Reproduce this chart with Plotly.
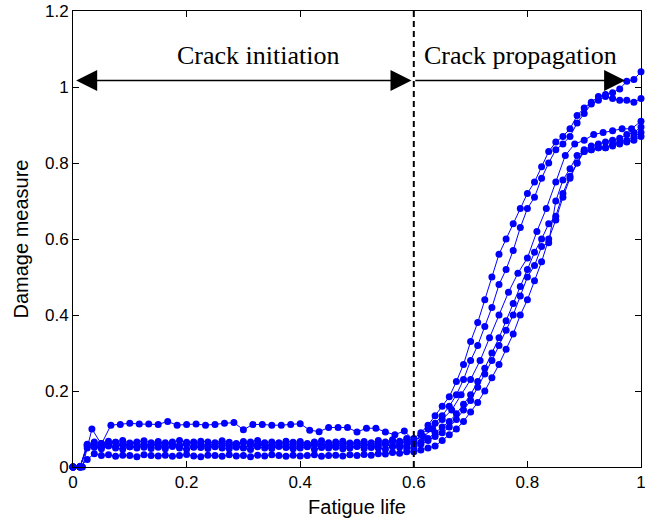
import plotly.graph_objects as go

# ---------------- data ----------------
# sample positions (normalised fatigue life)
X_A = [0, 0.0125, 0.025, 0.0375, 0.05, 0.0625, 0.075, 0.0875, 0.1, 0.1125,
       0.125, 0.1375, 0.15, 0.1625, 0.175, 0.1875, 0.2, 0.2125, 0.225, 0.2375,
       0.25, 0.2625, 0.275, 0.2875, 0.3, 0.3125, 0.325, 0.3375, 0.35, 0.3625,
       0.375, 0.3875, 0.4, 0.4125, 0.425, 0.4375, 0.45, 0.4625, 0.475, 0.4875,
       0.5, 0.5125, 0.525, 0.5375, 0.55, 0.5625, 0.575, 0.5875, 0.6, 0.6125,
       0.625, 0.6375, 0.65, 0.6625, 0.675, 0.6875, 0.7, 0.7125, 0.725, 0.7375,
       0.75, 0.7625, 0.775, 0.7875, 0.8, 0.8125, 0.825, 0.8375, 0.85, 0.8625,
       0.875, 0.8875, 0.9, 0.9125, 0.925, 0.9375, 0.95, 0.9625, 0.975, 0.9875, 1.0]

X_B = [0, 0.0167, 0.0333, 0.05, 0.0667, 0.0833, 0.1, 0.1167, 0.1333, 0.15,
       0.1667, 0.1833, 0.2, 0.2167, 0.2333, 0.25, 0.2667, 0.2833, 0.3, 0.3167,
       0.3333, 0.35, 0.3667, 0.3833, 0.4, 0.4167, 0.4333, 0.45, 0.4667, 0.4833,
       0.5, 0.5167, 0.5333, 0.55, 0.5667, 0.5833, 0.6, 0.6167, 0.6333, 0.65,
       0.6667, 0.6833, 0.7, 0.7167, 0.7333, 0.75, 0.7667, 0.7833, 0.8, 0.8167,
       0.8333, 0.85, 0.8667, 0.8833, 0.9, 0.9167, 0.9333, 0.95, 0.9667, 0.9833, 1.0]

specimen_1 = [0, 0, 0.055,
              0.058, 0.062, 0.06, 0.065, 0.058, 0.06, 0.063, 0.057, 0.061, 0.059,
              0.064, 0.06, 0.058, 0.062, 0.066, 0.06, 0.057, 0.061, 0.063, 0.059,
              0.06, 0.064, 0.058, 0.061, 0.06, 0.057, 0.063, 0.06, 0.059, 0.062,
              0.058, 0.06, 0.061, 0.057, 0.06, 0.063, 0.059, 0.062, 0.06, 0.058,
              0.064, 0.061, 0.066, 0.06, 0.068,
              0.075, 0.09, 0.11, 0.135, 0.16, 0.185, 0.225, 0.27, 0.33, 0.38,
              0.44, 0.50, 0.56, 0.60, 0.64, 0.68, 0.72, 0.75, 0.79, 0.83,
              0.855, 0.87, 0.89, 0.925, 0.945, 0.96, 0.975, 0.98, 0.985, 0.995,
              1.015, 1.02, 1.04]

specimen_2 = [0, 0.002, 0.05,
              0.052, 0.048, 0.055, 0.05, 0.047, 0.053, 0.05, 0.056, 0.049, 0.052,
              0.048, 0.054, 0.05, 0.047, 0.053, 0.051, 0.049, 0.055, 0.05, 0.048,
              0.052, 0.05, 0.046, 0.053, 0.05, 0.049, 0.054, 0.051, 0.048, 0.05,
              0.053, 0.047, 0.051, 0.05, 0.052, 0.048, 0.05, 0.054, 0.049, 0.051,
              0.05, 0.047, 0.055, 0.052, 0.058,
              0.065, 0.085, 0.10, 0.115, 0.135, 0.16, 0.19, 0.23, 0.28, 0.32,
              0.37, 0.42, 0.48, 0.52, 0.57, 0.63, 0.68, 0.71, 0.76, 0.80,
              0.835, 0.85, 0.87, 0.905, 0.93, 0.955, 0.965, 0.975, 0.97, 0.965,
              0.965, 0.96, 0.97]

specimen_3 = [0, 0, 0.10, 0.06, 0.11, 0.112, 0.115, 0.113, 0.113, 0.112,
              0.12, 0.11, 0.112, 0.113, 0.11, 0.112, 0.115, 0.117, 0.098, 0.112,
              0.112, 0.11, 0.11, 0.112, 0.114, 0.097, 0.093, 0.104, 0.104, 0.104,
              0.092, 0.102, 0.102, 0.092, 0.085, 0.095, 0.07,
              0.08, 0.10, 0.125, 0.15, 0.19, 0.23, 0.28, 0.34, 0.40, 0.46,
              0.51, 0.55, 0.62, 0.68, 0.75, 0.82, 0.85, 0.86, 0.875, 0.88,
              0.885, 0.89, 0.89, 0.91]

specimen_4 = [0, 0, 0.06,
              0.066, 0.062, 0.068, 0.065, 0.07, 0.063, 0.066, 0.069, 0.064, 0.067,
              0.062, 0.066, 0.07, 0.065, 0.063, 0.068, 0.066, 0.064, 0.069, 0.065,
              0.062, 0.067, 0.066, 0.07, 0.064, 0.066, 0.063, 0.068, 0.065, 0.067,
              0.062, 0.066, 0.069, 0.064, 0.066, 0.068, 0.063, 0.065, 0.067, 0.064,
              0.07, 0.066, 0.072, 0.068, 0.075,
              0.06, 0.065, 0.075, 0.09, 0.105, 0.12, 0.14, 0.165, 0.19, 0.225,
              0.26, 0.30, 0.34, 0.385, 0.43, 0.475, 0.52, 0.565, 0.60, 0.64,
              0.66, 0.72, 0.765, 0.80, 0.835, 0.845, 0.85, 0.855, 0.86, 0.865,
              0.875, 0.88, 0.895]

specimen_5 = [0, 0, 0.058,
              0.055, 0.052, 0.057, 0.054, 0.06, 0.053, 0.056, 0.052, 0.058, 0.055,
              0.053, 0.057, 0.054, 0.059, 0.052, 0.056, 0.055, 0.053, 0.058, 0.054,
              0.056, 0.052, 0.057, 0.055, 0.059, 0.053, 0.056, 0.054, 0.052, 0.057,
              0.055, 0.058, 0.053, 0.056, 0.054, 0.057, 0.052, 0.055, 0.058, 0.054,
              0.056, 0.06, 0.053, 0.057, 0.05,
              0.05, 0.06, 0.07, 0.08, 0.09, 0.105, 0.125, 0.15, 0.175, 0.21,
              0.245, 0.28, 0.32, 0.36, 0.40, 0.45, 0.50, 0.53, 0.58, 0.59,
              0.70, 0.755, 0.785, 0.82, 0.83, 0.835, 0.84, 0.84, 0.85, 0.855,
              0.86, 0.87, 0.88]

specimen_6 = [0, 0, 0.02,
              0.035, 0.03, 0.032, 0.028, 0.031, 0.03, 0.027, 0.032, 0.03, 0.029,
              0.031, 0.028, 0.03, 0.033, 0.029, 0.027, 0.031, 0.03, 0.028, 0.032,
              0.029, 0.03, 0.027, 0.031, 0.029, 0.032, 0.03, 0.028, 0.031, 0.029,
              0.03, 0.032, 0.028, 0.03, 0.031, 0.029, 0.032, 0.03, 0.033, 0.031,
              0.035, 0.034, 0.038, 0.036, 0.04,
              0.04, 0.045, 0.05, 0.055, 0.07, 0.085, 0.10, 0.12, 0.145, 0.17,
              0.20, 0.235, 0.27, 0.31, 0.35, 0.40, 0.44, 0.49, 0.54, 0.60,
              0.65, 0.71, 0.76, 0.80, 0.83, 0.835, 0.84, 0.84, 0.845, 0.85,
              0.855, 0.86, 0.87]

SERIES = [(X_A, specimen_1), (X_A, specimen_2), (X_B, specimen_3),
          (X_A, specimen_4), (X_A, specimen_5), (X_A, specimen_6)]

X_TICKS = [0, 0.2, 0.4, 0.6, 0.8, 1]
X_TICK_LABELS = ["0", "0.2", "0.4", "0.6", "0.8", "1"]
Y_TICKS = [0, 0.2, 0.4, 0.6, 0.8, 1, 1.2]
Y_TICK_LABELS = ["0", "0.2", "0.4", "0.6", "0.8", "1", "1.2"]

PHASE_BOUNDARY = 0.6
ARROW_LEVEL = 1.017
PROPAGATION_END = 0.972
LABEL_LEVEL = 1.082
LABELS = [("Crack initiation", 0.326), ("Crack propagation", 0.787)]

# ---------------- figure ----------------
fig = go.Figure()
BLUE = "#0000ff"
for xs, ys in SERIES:
    assert len(xs) == len(ys), (len(xs), len(ys))
    fig.add_trace(go.Scatter(
        x=xs, y=ys, mode="lines+markers",
        line=dict(color=BLUE, width=1),
        marker=dict(color=BLUE, size=7),
        cliponaxis=False, showlegend=False, hoverinfo="skip"))

# phase boundary (dashed)
fig.add_shape(type="line", xref="x", yref="y",
              x0=PHASE_BOUNDARY, x1=PHASE_BOUNDARY, y0=0, y1=1.2,
              line=dict(color="black", width=2, dash="6px,4px"))

# arrows
fig.add_annotation(x=PHASE_BOUNDARY - 0.004, y=ARROW_LEVEL, ax=0.003, ay=ARROW_LEVEL,
                   xref="x", yref="y", axref="x", ayref="y", text="",
                   showarrow=True, arrowhead=2, startarrowhead=2,
                   arrowside="end+start", arrowsize=2.8, startarrowsize=2.8,
                   arrowwidth=1.5, arrowcolor="black")
fig.add_annotation(x=PROPAGATION_END, y=ARROW_LEVEL, ax=PHASE_BOUNDARY, ay=ARROW_LEVEL,
                   xref="x", yref="y", axref="x", ayref="y", text="",
                   showarrow=True, arrowhead=2, arrowside="end",
                   arrowsize=2.8, arrowwidth=1.5, arrowcolor="black")

for txt, xpos in LABELS:
    fig.add_annotation(x=xpos, y=LABEL_LEVEL, xref="x", yref="y", text=txt,
                       showarrow=False, xanchor="center", yanchor="middle",
                       font=dict(family="Liberation Serif, Times New Roman, serif",
                                 size=26, color="black"))

axis_common = dict(showline=True, linecolor="black", linewidth=1, mirror="ticks",
                   ticks="inside", ticklen=6, tickcolor="black", tickwidth=1,
                   showgrid=False, zeroline=False, automargin=False,
                   ticklabeloverflow="allow",
                   tickfont=dict(family="Liberation Sans, Arial, sans-serif",
                                 size=17, color="black"))

fig.update_xaxes(range=[0, 1], tickvals=X_TICKS, ticktext=X_TICK_LABELS,
                 title=dict(text="Fatigue life", standoff=10,
                            font=dict(family="Liberation Sans, Arial, sans-serif",
                                      size=20, color="black")),
                 **axis_common)
fig.update_yaxes(range=[0, 1.2], tickvals=Y_TICKS, ticktext=Y_TICK_LABELS,
                 title=dict(text="Damage measure", standoff=10,
                            font=dict(family="Liberation Sans, Arial, sans-serif",
                                      size=20, color="black")),
                 **axis_common)

fig.update_layout(width=645, height=518,
                  margin=dict(l=73, r=4, t=11, b=51, pad=0),
                  paper_bgcolor="white", plot_bgcolor="white")

fig.write_html("out.html")
